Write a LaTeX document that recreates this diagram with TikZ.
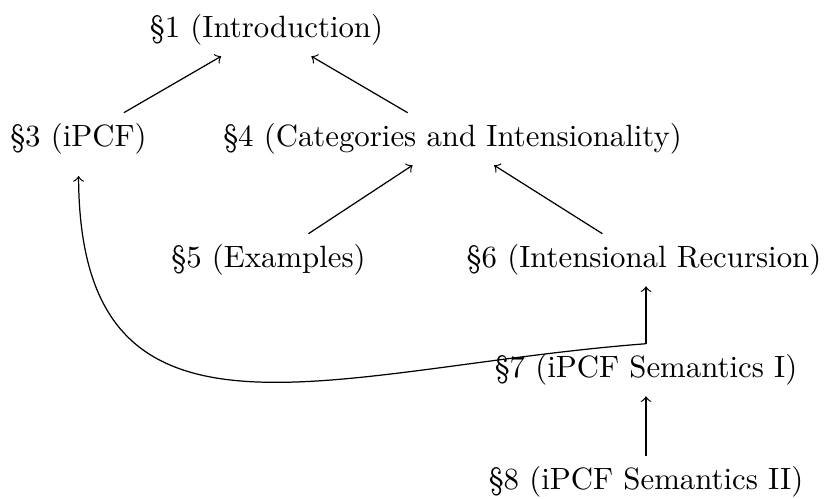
\documentclass[tikz,border=0pt]{standalone}
\begin{document}
\begin{tikzpicture}[x=0.3247pt, y=-0.3247pt,
  sec/.style={inner sep=0.3333em},
  dep/.style={->}]
\useasboundingbox (0,0) rectangle (825,499);
\node[sec] (s1) at (266.5,30) {\S1 (Introduction)};
\node[sec] (s3) at (78.5,139) {\S3 (iPCF)};
\node[sec] (s4) at (452.5,139) {\S4 (Categories and Intensionality)};
\node[sec] (s5) at (268.5,260) {\S5 (Examples)};
\node[sec] (s6) at (644,260) {\S6 (Intensional Recursion)};
\node[sec] (s7) at (646,370) {\S7 (iPCF Semantics I)};
\node[sec] (s8) at (646,482) {\S8 (iPCF Semantics II)};
\draw[dep] (s3) -- (s1);
\draw[dep] (s4) -- (s1);
\draw[dep] (s5) -- (s4);
\draw[dep] (s6) -- (s4);
\draw[dep] (s7.north) -- (s7.north |- s6.south);
\draw[dep, shorten >=3.5pt] (s7.north) .. controls (330,368) and (80,475) .. (s3.south);
\draw[dep] (s8) -- (s7);
\end{tikzpicture}
\end{document}
